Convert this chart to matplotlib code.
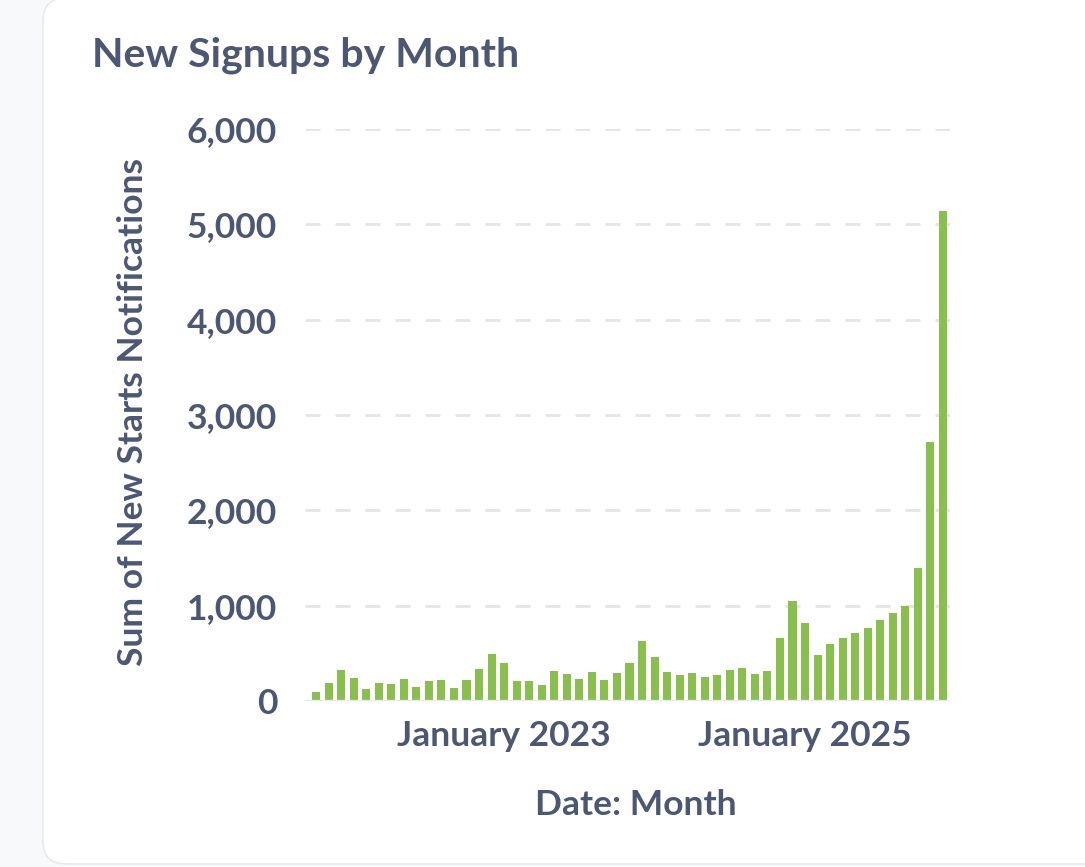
import matplotlib.pyplot as plt
import matplotlib.patches as patches
from matplotlib.ticker import FuncFormatter
import numpy as np

# monthly signups, Oct 2021 .. Dec 2025
months = ['2021-10', '2021-11', '2021-12',
          '2022-01', '2022-02', '2022-03', '2022-04', '2022-05', '2022-06',
          '2022-07', '2022-08', '2022-09', '2022-10', '2022-11', '2022-12',
          '2023-01', '2023-02', '2023-03', '2023-04', '2023-05', '2023-06',
          '2023-07', '2023-08', '2023-09', '2023-10', '2023-11', '2023-12',
          '2024-01', '2024-02', '2024-03', '2024-04', '2024-05', '2024-06',
          '2024-07', '2024-08', '2024-09', '2024-10', '2024-11', '2024-12',
          '2025-01', '2025-02', '2025-03', '2025-04', '2025-05', '2025-06',
          '2025-07', '2025-08', '2025-09', '2025-10', '2025-11', '2025-12']
signups = [98, 186, 325, 238, 123, 192, 178, 234, 150, 206, 220, 140,
           220, 332, 493, 402, 206, 206, 171, 318, 283, 234, 307, 224,
           294, 402, 630, 465, 301, 276, 294, 252, 273, 322, 343, 280,
           315, 661, 1046, 815, 479, 595, 661, 710, 763, 850, 926, 1000,
           1400, 2715, 5140]
tick_months = ['2023-01', '2025-01']
tick_labels = ['January 2023', 'January 2025']
y_ticks = [0, 1000, 2000, 3000, 4000, 5000, 6000]

text_color = '#4C5773'
bar_color = '#88BF4D'
plt.rcParams['font.family'] = ['Lato', 'DejaVu Sans']
plt.rcParams['lines.scale_dashes'] = False
fs = 25.5

W, H = 1085, 867
fig = plt.figure(figsize=(W / 100, H / 100), dpi=100)
fig.patch.set_facecolor('#F7F9FB')

# white card, right edge runs off the picture
card = patches.FancyBboxPatch((43 / W, 3 / H), 1.2, (867 - 3 + 2) / H,
                              boxstyle='round,pad=0,rounding_size=0.021',
                              transform=fig.transFigure, facecolor='white',
                              edgecolor='#E6EAEE', linewidth=1.2, zorder=-1,
                              mutation_aspect=W / H)
fig.patches.append(card)

ax = fig.add_axes([305 / W, (H - 701) / H, (950 - 305) / W, 572 / H])
ax.set_facecolor('none')

x = np.arange(len(months))
ax.bar(x, signups, width=0.64, color=bar_color, zorder=3)

ax.set_xlim(-0.88, len(months) - 1 + 0.56)
ax.set_ylim(0, 6000)

for yv in y_ticks[1:]:
    ax.axhline(yv, color='#E3E5E8', lw=2.0, dashes=(10.8, 10.8), zorder=1)
ax.axhline(0, color='#E6E8EB', lw=2.4, zorder=4)

ax.set_yticks(y_ticks)
ax.yaxis.set_major_formatter(FuncFormatter(lambda v, p: f'{int(v):,}'))
ax.set_xticks([months.index(m) for m in tick_months])
ax.set_xticklabels(tick_labels)
ax.tick_params(axis='both', length=0, labelsize=fs, labelcolor=text_color)
ax.tick_params(axis='y', pad=20)
ax.tick_params(axis='x', pad=13.5)
for lab in ax.get_xticklabels() + ax.get_yticklabels():
    lab.set_fontweight('bold')
for s in ax.spines.values():
    s.set_visible(False)

fig.text(92 / W, 1 - 67 / H, 'New Signups by Month', fontsize=29.5,
         fontweight='bold', color=text_color, ha='left', va='baseline')
fig.text(133 / W, 1 - 412 / H, 'Sum of New Starts Notifications', fontsize=fs,
         fontweight='bold', color=text_color, rotation=90, ha='center', va='center')
fig.text(636 / W, 1 - 805 / H, 'Date: Month', fontsize=fs,
         fontweight='bold', color=text_color, ha='center', va='center')

fig.savefig('out.png', dpi=100, facecolor=fig.get_facecolor())
